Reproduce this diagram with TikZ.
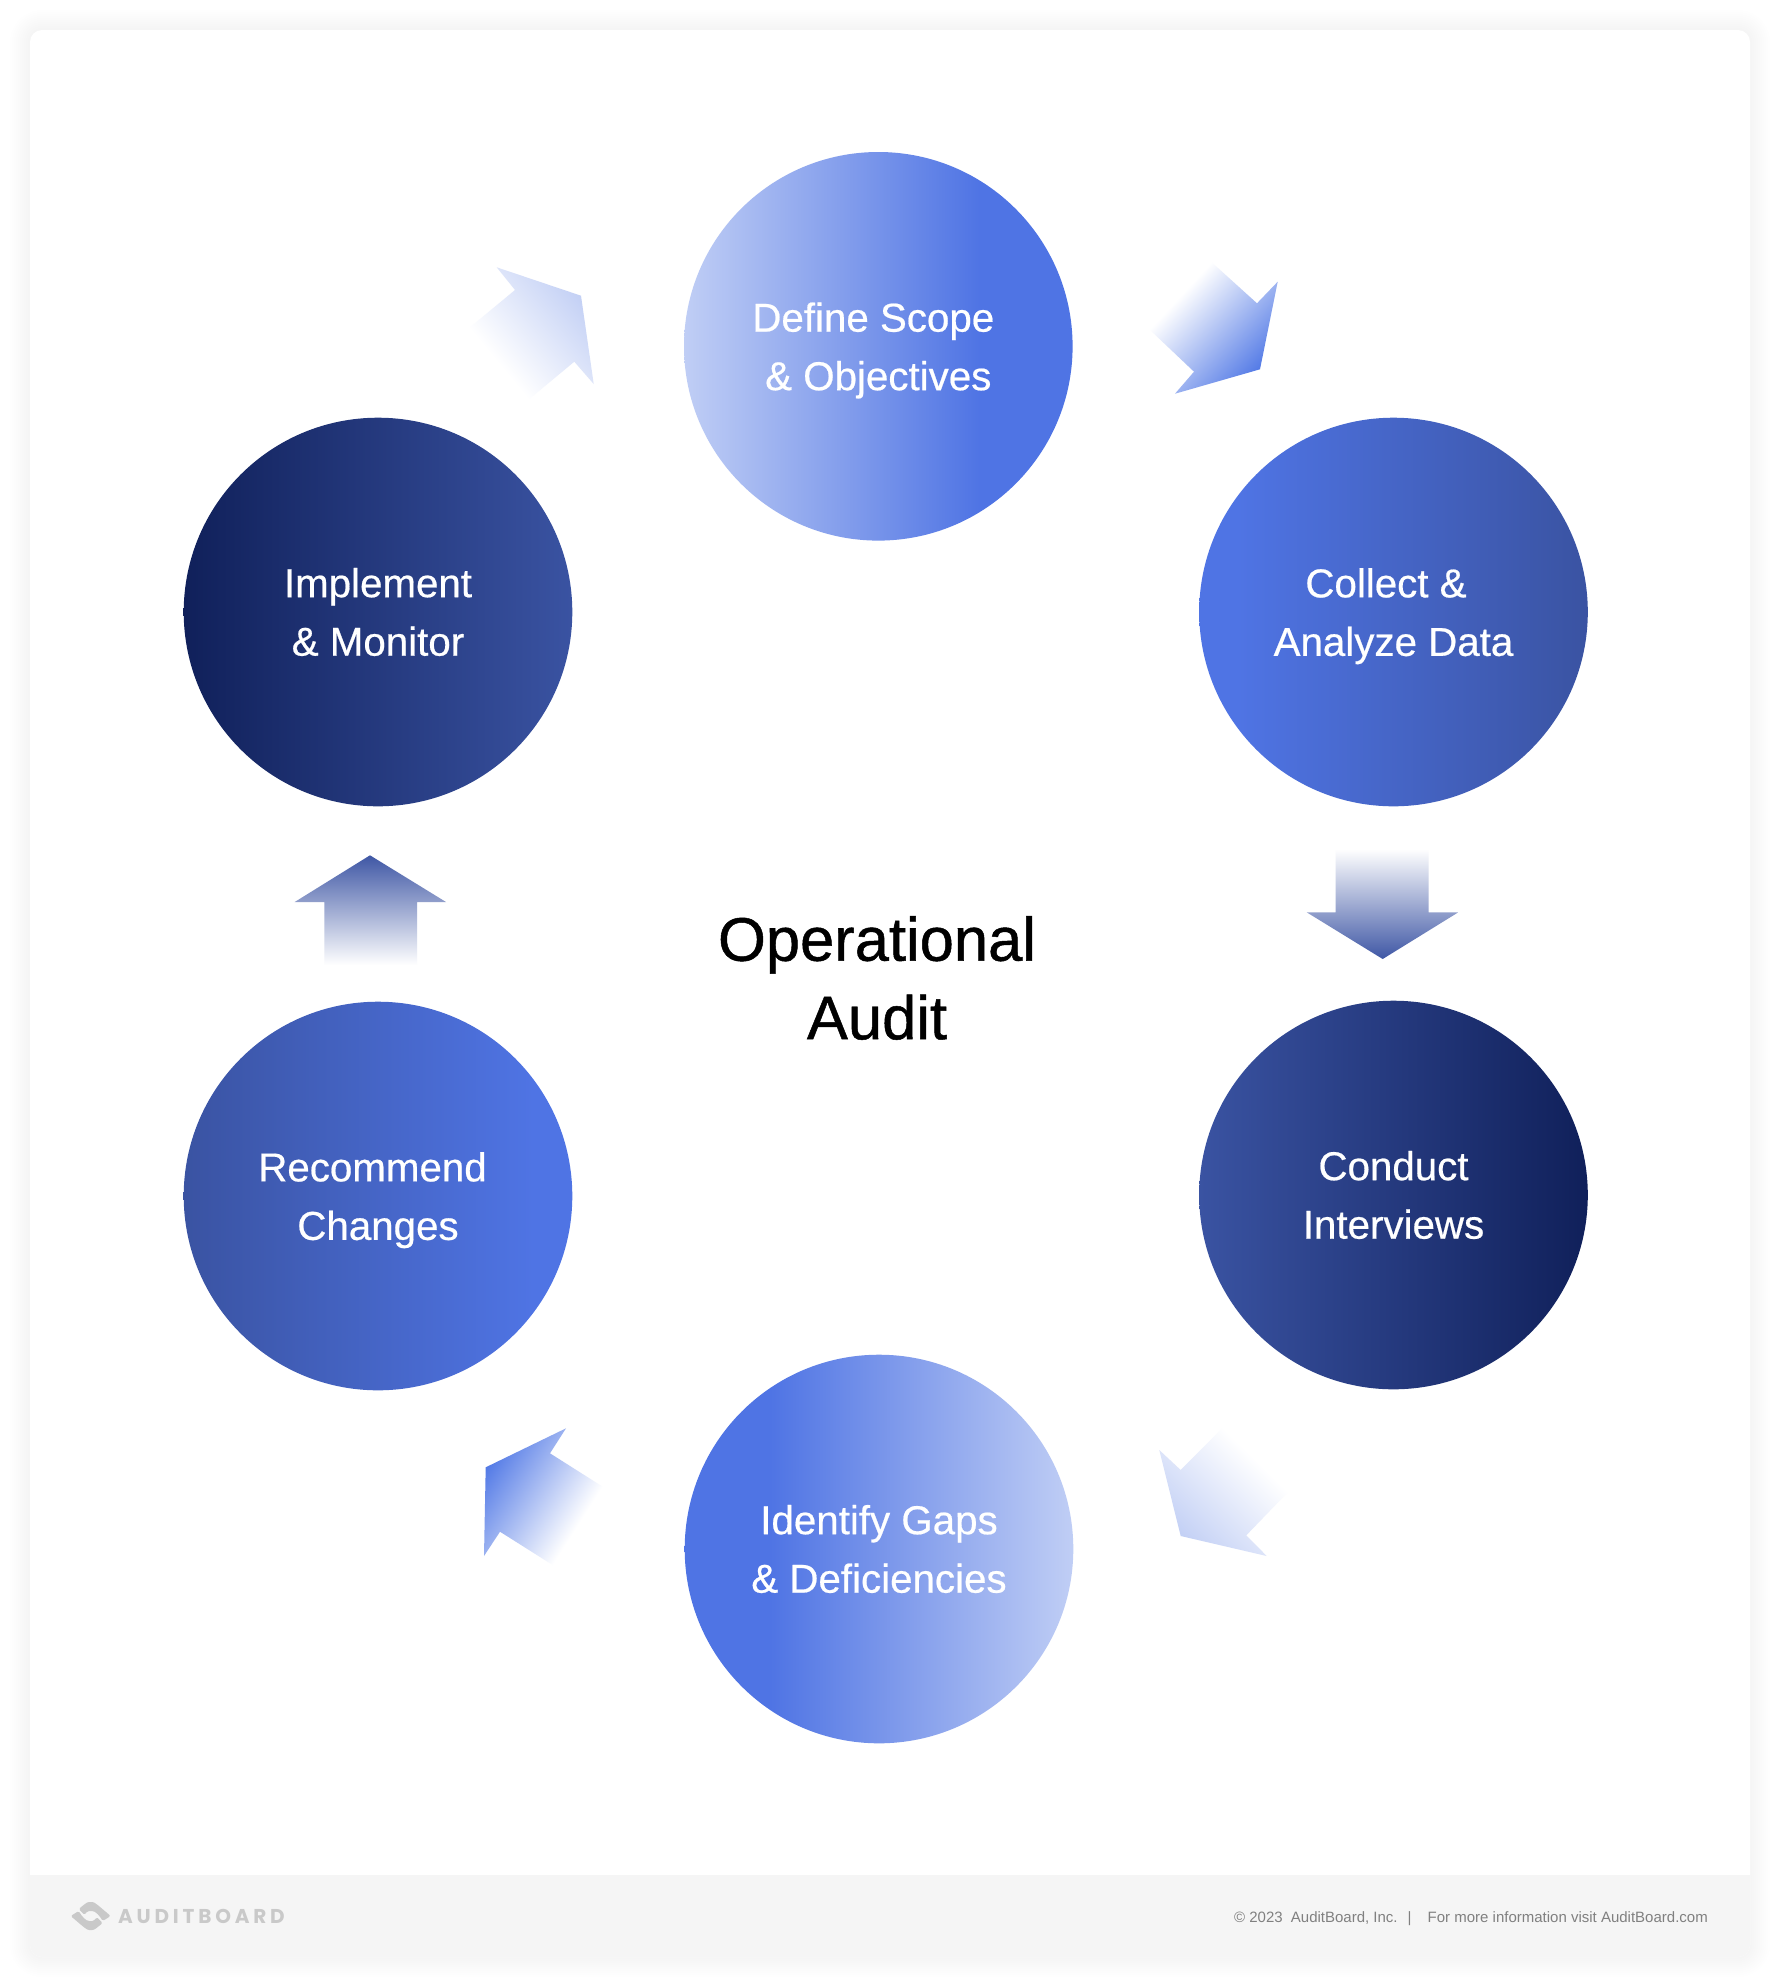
\documentclass[tikz,border=0pt]{standalone}
\usepackage{fontspec}
\setmainfont{Liberation Sans}
\newfontfamily\logofont[LetterSpace=19]{Poppins}
\usetikzlibrary{calc}
\definecolor{cPale}{HTML}{C0CEF5}
\definecolor{cBlue}{HTML}{4F74E4}
\definecolor{cMid}{HTML}{3A53A2}
\definecolor{cNavy}{HTML}{10205A}
\definecolor{cArrowPale}{HTML}{C3D0F5}
\definecolor{cArrowBlue}{HTML}{537AE6}
\definecolor{cArrowDark}{HTML}{3F57A5}
\definecolor{cFooter}{HTML}{F5F5F5}
\definecolor{cLogo}{HTML}{C9C9C9}
\definecolor{cFoot}{HTML}{808080}
% circle shadings: 25bp..75bp is the node's width
\pgfdeclarehorizontalshading{gPaleBlue}{100bp}{color(0bp)=(cPale); color(25bp)=(cPale); color(63bp)=(cBlue); color(100bp)=(cBlue)}
\pgfdeclarehorizontalshading{gBluePale}{100bp}{color(0bp)=(cBlue); color(36bp)=(cBlue); color(75bp)=(cPale); color(100bp)=(cPale)}
\pgfdeclarehorizontalshading{gBlueMid}{100bp}{color(0bp)=(cBlue); color(30bp)=(cBlue); color(75bp)=(cMid); color(100bp)=(cMid)}
\pgfdeclarehorizontalshading{gMidBlue}{100bp}{color(0bp)=(cMid); color(25bp)=(cMid); color(70bp)=(cBlue); color(100bp)=(cBlue)}
\pgfdeclarehorizontalshading{gMidNavy}{100bp}{color(0bp)=(cMid); color(25bp)=(cMid); color(75bp)=(cNavy); color(100bp)=(cNavy)}
\pgfdeclarehorizontalshading{gNavyMid}{100bp}{color(0bp)=(cNavy); color(25bp)=(cNavy); color(75bp)=(cMid); color(100bp)=(cMid)}
% arrow shadings: the central 25bp is the gradient
\pgfdeclarehorizontalshading{aPale}{100bp}{color(0bp)=(white); color(37.5bp)=(white); color(62.5bp)=(cArrowPale); color(100bp)=(cArrowPale)}
\pgfdeclarehorizontalshading{aBlue}{100bp}{color(0bp)=(white); color(37.5bp)=(white); color(62.5bp)=(cArrowBlue); color(100bp)=(cArrowBlue)}
\pgfdeclarehorizontalshading{aDark}{100bp}{color(0bp)=(white); color(37.5bp)=(white); color(62.5bp)=(cArrowDark); color(100bp)=(cArrowDark)}
% #1 shading, #2,#3 gradient start, #4,#5 gradient end, #6 outline
\newcommand{\gradarrow}[6]{%
  \pgfmathsetmacro{\gL}{veclen(#4-#2,#5-#3)}%
  \pgfmathsetmacro{\gA}{atan2(-(#5-#3),#4-#2)}%
  \pgfmathsetmacro{\gX}{(#2+#4)/2}%
  \pgfmathsetmacro{\gY}{(#3+#5)/2}%
  \begin{scope}
    \clip #6;
    \path[shade,shading=#1,shading angle=\gA]
      (\gX-\gL,\gY-\gL) rectangle (\gX+\gL,\gY+\gL);
  \end{scope}}
\newcommand{\flatline}[1]{\leavevmode\smash{#1}}
\tikzset{
  stage/.style={circle,minimum size=388.6pt,inner sep=0pt,shade,text=white,align=center,
    font=\fontsize{40.3}{58.5}\selectfont\addfontfeature{FakeBold=0.5},
    execute at begin node={\vspace*{2.6pt}}},
  title/.style={text=black,align=center,inner sep=0pt,
    font=\fontsize{61.5}{78.5}\selectfont\addfontfeature{FakeBold=0.8}},
  logomark/.style={fill=cLogo},
}
\begin{document}
\begin{tikzpicture}[x=1pt,y=-1pt]
\useasboundingbox (0,0) rectangle (1780,1987);
\fill[white] (0,0) rectangle (1780,1987);
% card shadow
\foreach \e in {2,4,...,20}{
  \fill[black,opacity=0.0025,rounded corners={12+\e}]
    ({30-\e},{30-\e}) rectangle ({1750+\e},{1957+\e});
}
\fill[white,rounded corners=12] (30,30) rectangle (1750,1957);
\begin{scope}
  \clip[rounded corners=12] (30,30) rectangle (1750,1957);
  \fill[cFooter] (30,1875) rectangle (1750,1957);
\end{scope}
% stages
\node[stage,shading=gPaleBlue] (scope)   at (878.3,346.3)  {\mbox{Define Scope\kern10pt}\\\flatline{\& Objectives}};
\node[stage,shading=gBlueMid]  (collect) at (1393.5,612)   {\mbox{Collect \&\kern15pt}\\\flatline{Analyze Data}};
\node[stage,shading=gMidNavy]  (interv)  at (1393.5,1195)  {Conduct\\Interviews};
\node[stage,shading=gBluePale] (gaps)    at (879,1549)     {Identify Gaps\\\& Deficiencies};
\node[stage,shading=gMidBlue]  (recomm)  at (378,1196)     {\mbox{Recommend\kern11pt}\\\flatline{Changes}};
\node[stage,shading=gNavyMid]  (impl)    at (378,612)      {Implement\\\& Monitor};
\node[title] (audit) at (877,978) {Operational\\Audit};
% block arrows
\gradarrow{aBlue}{1180}{295.5}{1260}{369.3}{(1211,261.7) -- (1257,303.3) -- (1277.7,281.7) -- (1260,369.3) -- (1175,393.7) -- (1194,371.7) -- (1149.3,329.3) -- cycle}
\gradarrow{aDark}{1382.5}{849}{1382.5}{959}{(1335.7,849) -- (1428.7,849) -- (1428.7,912.3) -- (1458.3,912.3) -- (1382.7,959) -- (1306.7,912.3) -- (1335.7,912.3) -- cycle}
\gradarrow{aPale}{1256}{1459.5}{1180.7}{1536}{(1159.3,1450) -- (1180.7,1470) -- (1223.3,1427.3) -- (1288.3,1491.7) -- (1246.3,1535.3) -- (1266.7,1556) -- (1180.7,1536) -- cycle}
\gradarrow{aBlue}{577.7}{1525.8}{485.7}{1467.3}{(566,1428.3) -- (550,1453.3) -- (602.7,1486.7) -- (552.7,1565) -- (500,1531.7) -- (484,1556) -- (485.7,1467.3) -- cycle}
\gradarrow{aDark}{370}{965}{370}{855.3}{(324.3,965) -- (417,965) -- (417,902) -- (446,902) -- (370,855.3) -- (294.7,902) -- (324.3,902) -- cycle}
\gradarrow{aPale}{498.6}{364}{581}{295.7}{(496.7,267.3) -- (581,295.7) -- (593.7,384) -- (574.3,361.7) -- (527.3,400.7) -- (470,327.3) -- (515,290) -- cycle}
% footer logo
\begin{scope}[shift={(90.7,1916)}]
  \fill[logomark,rounded corners=1.5] (-12,-7) .. controls (-7,-11) and (-4,-14) .. (0,-14) .. controls (4,-14) and (7,-11) .. (20,0) -- (12,5) .. controls (9,0) and (5,-5) .. (0,-5) .. controls (-3,-5) and (-5,-3) .. (-6,-1) -- cycle;
  \fill[logomark,rounded corners=1.5] (12,7) .. controls (7,11) and (4,14) .. (0,14) .. controls (-4,14) and (-7,11) .. (-20,0) -- (-12,-5) .. controls (-9,0) and (-5,5) .. (0,5) .. controls (3,5) and (5,3) .. (6,1) -- cycle;
\end{scope}
\node[anchor=west,inner sep=0pt,text=cLogo,font=\logofont\fontsize{20}{20}\selectfont\bfseries] (brand) at (118,1916) {AUDITBOARD};
\node[anchor=east,inner sep=0pt,text=cFoot,font=\fontsize{15}{18}\selectfont] (legal) at (1708,1919) {© 2023\hspace{4pt} AuditBoard, Inc.\hspace{10pt}|\hspace{12pt} For more information visit AuditBoard.com};
\end{tikzpicture}
\end{document}
